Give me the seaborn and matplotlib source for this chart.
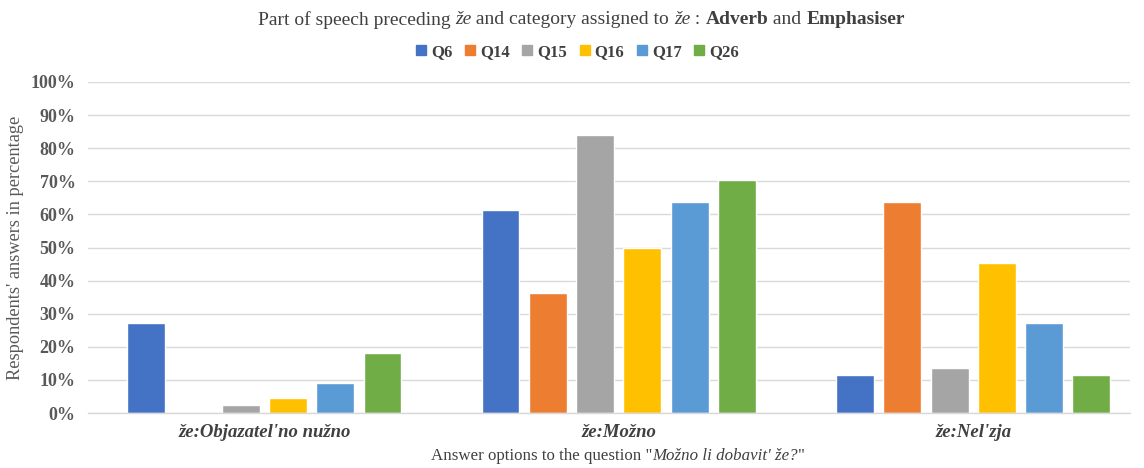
import numpy as np
import pandas as pd
import seaborn as sns
from matplotlib import pyplot as plt

# chart data
categories = ["že:Objazatel'no nužno", "že:Možno", "že:Nel'zja"]
questions = ["Q6", "Q14", "Q15", "Q16", "Q17", "Q26"]
q6 = [27.27, 61.36, 11.36]
q14 = [0.0, 36.36, 63.64]
q15 = [2.27, 84.09, 13.64]
q16 = [4.55, 50.00, 45.45]
q17 = [9.09, 63.64, 27.27]
q26 = [18.18, 70.45, 11.36]
colors = ["#4472C4", "#ED7D31", "#A5A5A5", "#FFC000", "#5B9BD5", "#70AD47"]
yticks = list(range(0, 101, 10))

rows = []
for q, vals in zip(questions, [q6, q14, q15, q16, q17, q26]):
    for cat, v in zip(categories, vals):
        rows.append({"category": cat, "question": q, "value": v})
df = pd.DataFrame(rows)

sns.set_style("white")
plt.rcParams['font.family'] = ['Liberation Serif', 'DejaVu Serif']

fig = plt.figure(figsize=(11.44, 4.68), dpi=100)
ax = fig.add_axes([0.077, 0.1175, 0.911, 0.7073])

sns.barplot(data=df, x="category", y="value", hue="question", order=categories,
            hue_order=questions, palette=colors, width=0.8, gap=0.2,
            saturation=1, ax=ax, legend=False)

ax.set_xlim(-0.497, 2.443)
ax.set_ylim(0, 100)
ax.set_yticks(yticks)
ax.set_yticklabels([f"{t}%" for t in yticks])
ax.grid(axis="y", color="#D9D9D9", linewidth=1)
ax.set_axisbelow(True)
for s in ["top", "right", "left"]:
    ax.spines[s].set_visible(False)
ax.spines["bottom"].set_color("#D9D9D9")
ax.spines["bottom"].set_linewidth(1)
ax.tick_params(axis="y", length=0, pad=9, labelcolor="#595959")
ax.tick_params(axis="x", length=0, pad=8)
for lab in ax.get_yticklabels():
    lab.set_fontweight("bold")
    lab.set_fontsize(13)
for lab in ax.get_xticklabels():
    lab.set_fontweight("bold")
    lab.set_fontstyle("italic")
    lab.set_fontsize(13.5)
    lab.set_color("#404040")
ax.set_xlabel("")
ax.set_ylabel("Respondents' answers in percentage", fontsize=13.2, color="#595959", labelpad=5)

# legend
handles = [plt.Rectangle((0, 0), 1, 1, color=c) for c in colors]
leg = fig.legend(handles, questions, loc="center", bbox_to_anchor=(0.505, 0.889), ncol=6,
                 frameon=False, handlelength=0.6, handleheight=0.6, handletextpad=0.3,
                 columnspacing=0.75, prop={"weight": "bold", "size": 12})
for t in leg.get_texts():
    t.set_color("#404040")


def mixed_text(pieces, xc, y, size, color):
    renderer = fig.canvas.get_renderer()
    texts = []
    for s, style, weight in pieces:
        t = fig.text(0, y, s, fontsize=size, fontstyle=style, fontweight=weight,
                     color=color, va="center", ha="left")
        texts.append(t)
    widths = [t.get_window_extent(renderer).width / fig.bbox.width for t in texts]
    x = xc - sum(widths) / 2
    for t, w in zip(texts, widths):
        t.set_x(x)
        x += w


mixed_text([("Part of speech preceding ", "normal", "normal"),
            ("že", "italic", "normal"),
            (" and category assigned to ", "normal", "normal"),
            ("že", "italic", "normal"),
            (" : ", "normal", "normal"),
            ("Adverb", "normal", "bold"),
            (" and ", "normal", "normal"),
            ("Emphasiser", "normal", "bold")],
           0.508, 0.958, 14, "#404040")

mixed_text([("Answer options to the question \"", "normal", "normal"),
            ("Možno li dobavit' že?", "italic", "normal"),
            ("\"", "normal", "normal")],
           0.54, 0.025, 12.2, "#404040")

fig.savefig("out.png", dpi=100)
